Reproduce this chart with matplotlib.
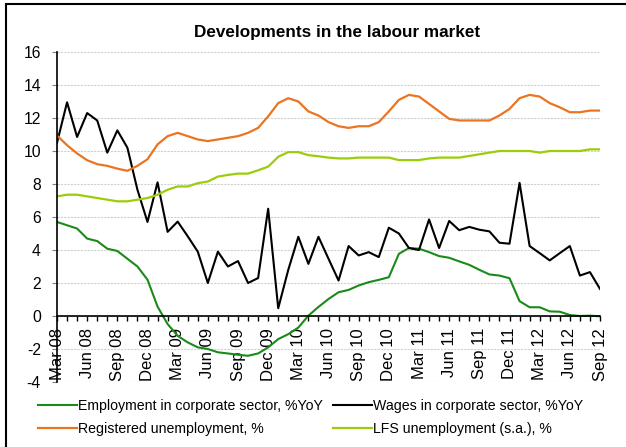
import numpy as np
import matplotlib.pyplot as plt
from matplotlib.patches import Rectangle

plt.rcParams['font.family'] = ['Liberation Sans', 'DejaVu Sans']
plt.rcParams['axes.unicode_minus'] = False

# monthly data, Mar 08 .. Sep 12
tick_labels = ['Mar 08', 'Jun 08', 'Sep 08', 'Dec 08', 'Mar 09', 'Jun 09', 'Sep 09',
               'Dec 09', 'Mar 10', 'Jun 10', 'Sep 10', 'Dec 10', 'Mar 11', 'Jun 11',
               'Sep 11', 'Dec 11', 'Mar 12', 'Jun 12', 'Sep 12']

employment = [5.7, 5.5, 5.3, 4.69, 4.54, 4.08, 3.94, 3.47, 3.0, 2.2, 0.57, -0.49,
              -1.2, -1.6, -1.9, -2.0, -2.2, -2.27, -2.35, -2.41, -2.27, -1.9, -1.4,
              -1.1, -0.7, 0.02, 0.55, 1.03, 1.44, 1.58, 1.85, 2.05, 2.19, 2.35, 3.77,
              4.12, 4.08, 3.87, 3.63, 3.53, 3.31, 3.1, 2.8, 2.52, 2.45, 2.29, 0.9,
              0.53, 0.53, 0.28, 0.26, 0.06, 0.0, 0.02, -0.02]

wages = [10.5, 12.95, 10.85, 12.3, 11.85, 9.9, 11.25, 10.2, 7.65, 5.7, 8.1, 5.1,
         5.72, 4.83, 3.9, 2.0, 3.9, 3.0, 3.33, 2.0, 2.3, 6.5, 0.47, 2.8, 4.8, 3.16,
         4.8, 3.47, 2.15, 4.24, 3.67, 3.87, 3.57, 5.35, 5.0, 4.12, 4.0, 5.85, 4.12,
         5.76, 5.2, 5.4, 5.23, 5.13, 4.44, 4.38, 8.07, 4.24, 3.81, 3.37, 3.81, 4.24,
         2.45, 2.66, 1.64]

registered = [10.94, 10.35, 9.85, 9.44, 9.2, 9.1, 8.93, 8.8, 9.1, 9.5, 10.4, 10.9,
              11.1, 10.9, 10.7, 10.6, 10.7, 10.8, 10.9, 11.1, 11.4, 12.1, 12.9, 13.2,
              13.0, 12.4, 12.15, 11.75, 11.5, 11.4, 11.5, 11.5, 11.75, 12.4, 13.1,
              13.4, 13.3, 12.85, 12.4, 11.95, 11.85, 11.85, 11.85, 11.85, 12.15, 12.55,
              13.2, 13.4, 13.3, 12.9, 12.65, 12.35, 12.35, 12.45, 12.45]

lfs = [7.25, 7.35, 7.35, 7.25, 7.15, 7.05, 6.95, 6.95, 7.05, 7.15, 7.35, 7.65, 7.85,
       7.85, 8.05, 8.15, 8.45, 8.55, 8.63, 8.63, 8.83, 9.05, 9.65, 9.93, 9.93, 9.75,
       9.68, 9.6, 9.55, 9.55, 9.6, 9.6, 9.6, 9.6, 9.45, 9.45, 9.45, 9.55, 9.6, 9.6,
       9.6, 9.7, 9.8, 9.9, 10.0, 10.0, 10.0, 10.0, 9.9, 10.0, 10.0, 10.0, 10.0, 10.1,
       10.1]

x = np.arange(len(employment))

fig = plt.figure(figsize=(6.26, 4.47), dpi=100)
ax = fig.add_axes([57 / 626, 65 / 447, 543 / 626, 330 / 447])

l_emp, = ax.plot(x, employment, color='#1a8a1a', lw=1.5)
l_wag, = ax.plot(x, wages, color='black', lw=1.5)
l_reg, = ax.plot(x, registered, color='#ec7420', lw=1.6)
l_lfs, = ax.plot(x, lfs, color='#9acd0a', lw=1.6)

ax.set_xlim(0, len(x) - 1)
ax.set_ylim(-4, 16)
ax.set_yticks(np.arange(-4, 17, 2))
ax.yaxis.grid(True, color='#d0d0d0', linestyle=(0, (2, 1)), lw=0.8)
ax.set_axisbelow(True)

ax.spines['top'].set_visible(False)
ax.spines['right'].set_visible(False)
ax.spines['bottom'].set_position(('data', 0))
ax.spines['bottom'].set_linewidth(1.2)
ax.spines['left'].set_linewidth(1.2)

ax.set_xticks(np.arange(0, len(x), 3))
ax.set_xticklabels(tick_labels, rotation=90, fontsize=12)
ax.set_xticks(x, minor=True)
ax.tick_params(axis='x', which='both', direction='out', length=3.6, width=1, pad=5)
ax.tick_params(axis='y', direction='out', length=3.6, width=0.8, color='#808080',
               labelsize=11.3, pad=8)

fig.text(337 / 626, 1 - 36.7 / 447, 'Developments in the labour market', ha='center',
         va='baseline', fontsize=12.3, fontweight='bold')

fig.legend([l_emp, l_reg, l_wag, l_lfs],
           ['Employment in corporate sector, %YoY', 'Registered unemployment, %',
            'Wages in corporate sector, %YoY', 'LFS unemployment (s.a.), %'],
           loc='upper left', bbox_to_anchor=(38 / 626, 1 - 399 / 447), ncol=2, frameon=False,
           fontsize=10.2, handlelength=2.75, handletextpad=0.07,
           columnspacing=0.75, labelspacing=0.6, borderpad=0, borderaxespad=0)

fig.patches.append(Rectangle((6 / 626, -0.1), 1.2, 1.1 - 4.5 / 447, transform=fig.transFigure,
                             fill=False, edgecolor='black', lw=1.5))

fig.savefig('out.png', dpi=100)
